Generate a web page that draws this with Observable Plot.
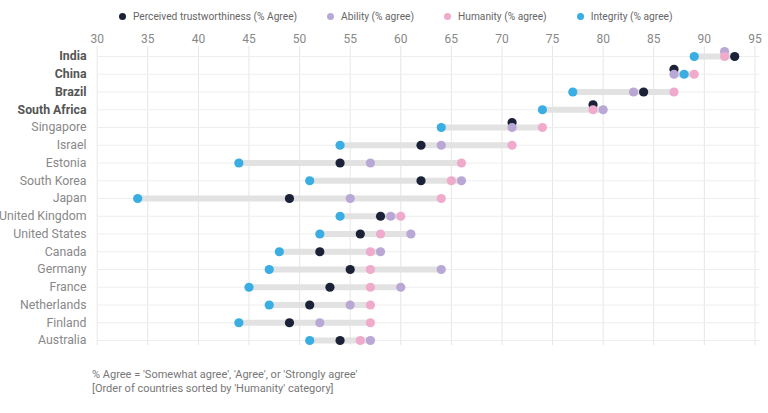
<!DOCTYPE html>
<html><head><meta charset="utf-8">
<script src="https://cdn.jsdelivr.net/npm/d3@7"></script>
<script src="https://cdn.jsdelivr.net/npm/@observablehq/plot@0.6"></script>
<style>
body{margin:0;background:#fff;font-family:Roboto, sans-serif;width:768px;height:413px;overflow:hidden}
#legend{height:28px;display:flex;align-items:center;padding-left:119px;padding-top:4px;box-sizing:border-box;font-size:10.2px;color:#666;gap:30px}
.li{display:flex;align-items:center;white-space:nowrap}
.li span.sw{width:7px;height:7px;border-radius:50%;display:inline-block;margin-right:7px}
#caption{margin-top:10px;padding-left:92px;font-size:11px;color:#777;line-height:14px}
</style></head><body>
<div id="legend"></div>
<div id="chart"></div>
<div id="caption">% Agree = 'Somewhat agree', 'Agree', or 'Strongly agree'<br>[Order of countries sorted by 'Humanity' category]</div>
<script>
const countries = ["India","China","Brazil","South Africa","Singapore","Israel","Estonia","South Korea","Japan","United Kingdom","United States","Canada","Germany","France","Netherlands","Finland","Australia"];
const boldCountries = ["India","China","Brazil","South Africa"];
const seriesNames = ["Perceived trustworthiness (% Agree)","Ability (% agree)","Humanity (% agree)","Integrity (% agree)"];
const seriesColors = ["#1b2238","#b9a8d6","#f0abcc","#3aaee2"];
const trust     = [93,87,84,79,71,62,54,62,49,58,56,52,55,53,51,49,54];
const ability   = [92,87,83,80,71,64,57,66,55,59,61,58,64,60,55,52,57];
const humanity  = [92,89,87,79,74,71,66,65,64,60,58,57,57,57,57,57,56];
const integrity = [89,88,77,74,64,54,44,51,34,54,52,48,47,45,47,44,51];
const xTicks = d3.range(30, 96, 5);

const seriesVals = [trust, ability, humanity, integrity];
const rows = countries.map((c, i) => {
  const vals = seriesVals.map(s => s[i]);
  return {country: c, min: d3.min(vals), max: d3.max(vals)};
});
const long = [];
countries.forEach((c, i) => {
  seriesVals.forEach((s, k) => {
    const later = seriesVals.slice(k + 1).map(t => t[i]);
    long.push({country: c, series: seriesNames[k], value: s[i], shifted: later.includes(s[i])});
  });
});

// legend
const lg = document.getElementById("legend");
seriesNames.forEach((n, k) => {
  const d = document.createElement("div");
  d.className = "li";
  d.innerHTML = `<span class="sw" style="background:${seriesColors[k]}"></span>${n}`;
  lg.appendChild(d);
});

const plot = Plot.plot({
  width: 768,
  height: 330,
  marginTop: 18,
  marginBottom: 13,
  marginLeft: 97,
  marginRight: 8.5,
  style: {fontFamily: "Roboto, sans-serif", background: "#fff"},
  x: {domain: [30, 95.5], range: [96.7, 759.5]},
  y: {type: "point", domain: countries, range: [28, 312], padding: 0, round: false},
  color: {domain: seriesNames, range: seriesColors},
  marks: [
    Plot.gridX({ticks: xTicks, stroke: "#e6e6e6", strokeOpacity: 1}),
    Plot.gridY({stroke: "#eeeeee", strokeOpacity: 1}),
    Plot.axisX({anchor: "top", ticks: xTicks, tickSize: 0, tickPadding: 4, fontSize: 12, fill: "#888", label: null}),
    Plot.axisY({tickSize: 0, tickPadding: 11, fontSize: 12.3, fill: "#888", label: null}),
    Plot.ruleY(rows, {y: "country", x1: "min", x2: "max", stroke: "#e2e2e2", strokeWidth: 6}),
    Plot.dot(long.filter(d => d.shifted), {x: "value", y: "country", fill: "series", r: 4.6, dy: -5}),
    Plot.dot(long.filter(d => !d.shifted), {x: "value", y: "country", fill: "series", r: 4.6})
  ]
});
document.getElementById("chart").appendChild(plot);
plot.querySelectorAll('g[aria-label="y-axis tick label"] text').forEach(t => {
  if (boldCountries.includes(t.textContent)) {
    t.setAttribute("font-weight", "bold");
    t.setAttribute("fill", "#555");
  }
});
</script>
</body></html>
